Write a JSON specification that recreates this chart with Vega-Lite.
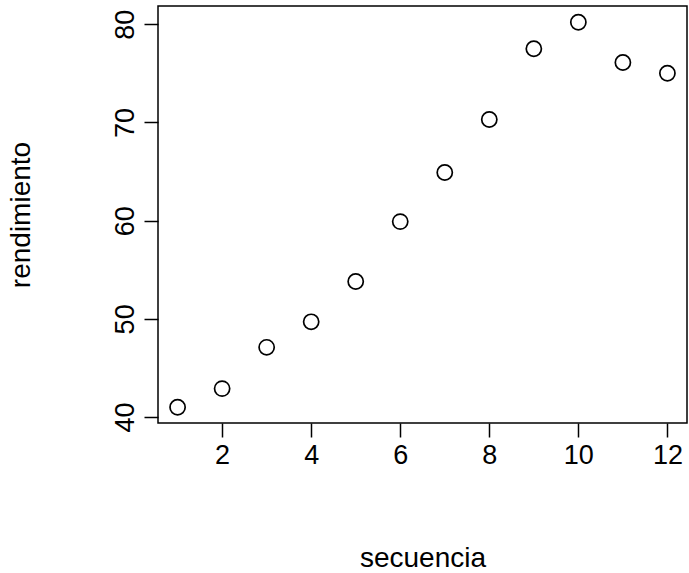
{
  "$schema": "https://vega.github.io/schema/vega-lite/v6.json",
  "autosize": "none",
  "width": 529,
  "height": 417,
  "padding": {"left": 158, "top": 6, "right": 2, "bottom": 150},
  "background": "white",
  "config": {
    "view": {"stroke": "black", "strokeWidth": 1.5},
    "font": "Liberation Sans",
    "axis": {
      "domain": false,
      "grid": false,
      "ticks": true,
      "tickColor": "black",
      "tickWidth": 1.5,
      "tickSize": 14,
      "labelColor": "black",
      "labelFont": "Liberation Sans",
      "labelFontSize": 27,
      "labelPadding": 5,
      "titleColor": "black",
      "titleFont": "Liberation Sans",
      "titleFontSize": 28,
      "titleFontWeight": "normal"
    }
  },
  "data": {
    "values": [
      {"secuencia": 1, "rendimiento": 41.0},
      {"secuencia": 2, "rendimiento": 42.9},
      {"secuencia": 3, "rendimiento": 47.1},
      {"secuencia": 4, "rendimiento": 49.7},
      {"secuencia": 5, "rendimiento": 53.8},
      {"secuencia": 6, "rendimiento": 59.9},
      {"secuencia": 7, "rendimiento": 64.9},
      {"secuencia": 8, "rendimiento": 70.3},
      {"secuencia": 9, "rendimiento": 77.5},
      {"secuencia": 10, "rendimiento": 80.2},
      {"secuencia": 11, "rendimiento": 76.1},
      {"secuencia": 12, "rendimiento": 75.0}
    ]
  },
  "mark": {"type": "point", "shape": "circle", "filled": false, "color": "black", "size": 230, "strokeWidth": 1.7, "opacity": 1},
  "encoding": {
    "x": {
      "field": "secuencia",
      "type": "quantitative",
      "scale": {"domain": [0.56, 12.44], "nice": false, "zero": false},
      "axis": {"values": [2, 4, 6, 8, 10, 12], "title": "secuencia", "titlePadding": 76, "labelFlush": false}
    },
    "y": {
      "field": "rendimiento",
      "type": "quantitative",
      "scale": {"domain": [39.4, 81.85], "nice": false, "zero": false},
      "axis": {"values": [40, 50, 60, 70, 80], "title": "rendimiento", "titlePadding": 76, "labelAngle": -90, "labelAlign": "center", "labelBaseline": "bottom", "labelFlush": false}
    }
  }
}
